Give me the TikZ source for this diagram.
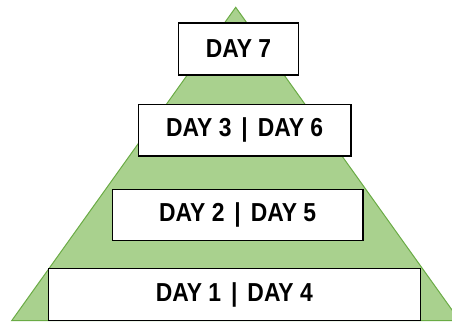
\documentclass[tikz,border=0pt]{standalone}
\usepackage{fontspec}
\setmainfont{Liberation Sans}
\newfontfamily\dayfont[FakeStretch=0.88]{Liberation Sans}
\usepackage{xcolor}
\usepackage{tikz}
\usetikzlibrary{calc}
\definecolor{leaf}{HTML}{6AA842}
\definecolor{leaflight}{HTML}{A9D18E}
\definecolor{edge}{HTML}{6AAB45}
\newcommand{\sep}{\hspace{10pt}|\hspace{10pt}}
\tikzset{
  pyramid/.style={draw=edge, line width=1pt, top color=leaflight, middle color=leaf, bottom color=leaflight},
  daybox/.style={draw=black, fill=white, line width=1.3pt, inner sep=0pt, font=\dayfont\fontsize{26}{28}\selectfont\bfseries},
}

\begin{document}
\begin{tikzpicture}[x=1pt,y=1pt]
  \useasboundingbox (0,0) rectangle (452,322);
  \clip (0,0) rectangle (452,322);
  \coordinate (apex) at (235.7,314.7);
  \coordinate (L) at (11.7,1.3);
  \coordinate (R) at (459.7,1.3);

  \shade[pyramid] (L)--(apex)--(R)--cycle;

  \node[daybox, minimum width=120.4pt, minimum height=52pt] (d7) at (238.5,273) {DAY 7};
  \node[daybox, minimum width=212.7pt, minimum height=51.7pt] (d36) at (244.7,191.8) {DAY 3\sep DAY 6};
  \node[daybox, minimum width=250.7pt, minimum height=51pt] (d25) at (237.7,106.8) {DAY 2\sep DAY 5};
  \node[daybox, minimum width=372pt, minimum height=51.6pt] (d14) at (234.3,27.5) {DAY 1\sep DAY 4};
\end{tikzpicture}
\end{document}
